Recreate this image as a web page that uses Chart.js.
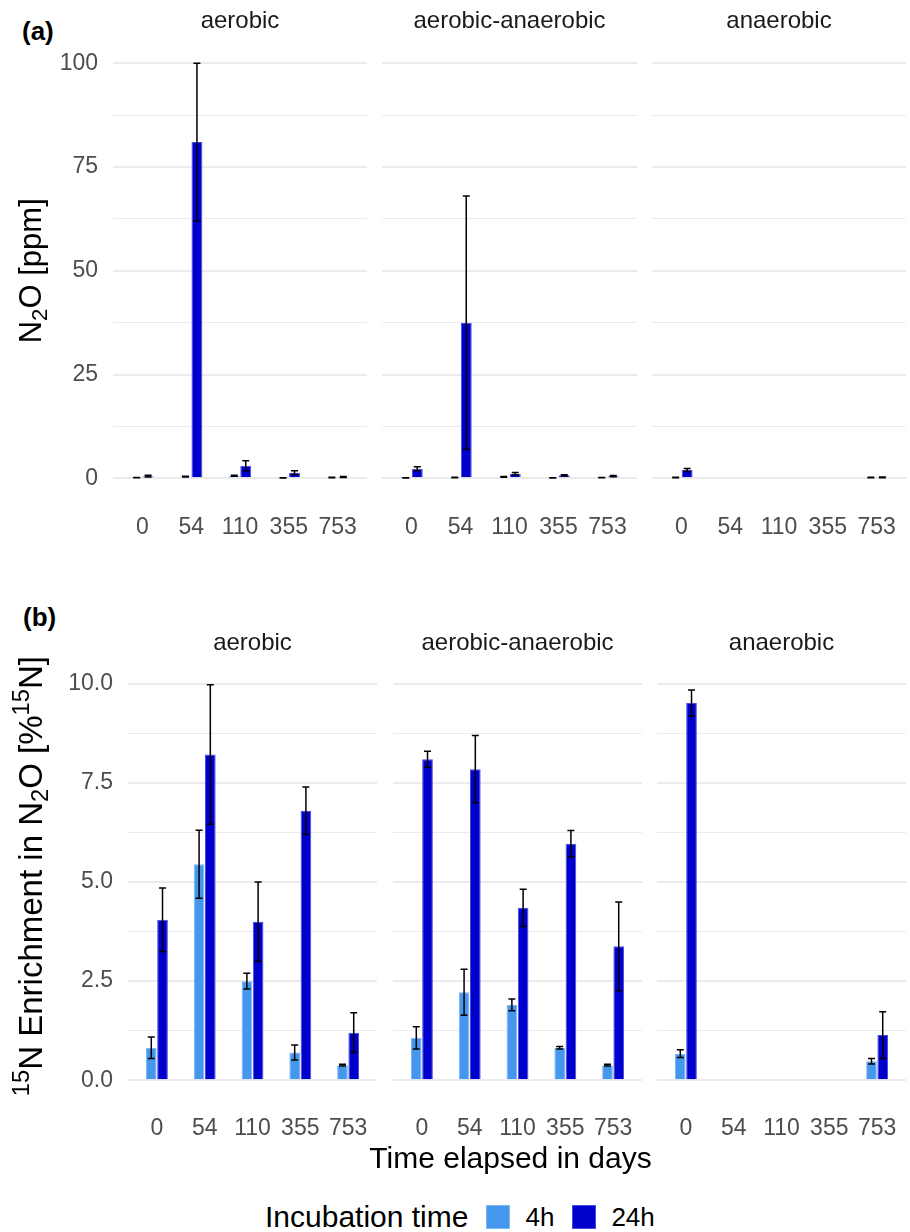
<!DOCTYPE html>
<html>
<head>
<meta charset="utf-8">
<script src="https://cdn.jsdelivr.net/npm/chart.js@4.4.1/dist/chart.umd.min.js"></script>
<style>
  body { margin: 0; width: 910px; height: 1232px; position: relative; overflow: hidden; background: #fff;
         font-family: "Liberation Sans", Arial, sans-serif; }
  .tag { position: absolute; font-weight: bold; font-size: 26px; line-height: 30px; color: #000; }
  #legend { position: absolute; left: 265px; top: 1199px; height: 36px; display: flex; align-items: center; color: #000; }
  #legend .sw { display: inline-block; width: 24px; height: 24px; box-sizing: border-box; }
</style>
</head>
<body>
<div class="tag" style="left:22px;top:16px">(a)</div>
<div class="tag" style="left:23px;top:602px">(b)</div>
<div id="legend"></div>

<script>
// categories and facets
const categories = ['0', '54', '110', '355', '753'];
const treatments = ['aerobic', 'aerobic-anaerobic', 'anaerobic'];
const seriesLabels = ['4h', '24h'];
const seriesColors = ['#4597ee', '#0000cd'];
const seriesBorders = ['#7cb5f3', '#4a4ae2'];

// (a) N2O [ppm], one inner array per treatment
const n2o4h = [
    [0.15, 0.4, 0.6, 0.1, 0.2],
    [0.1, 0.2, 0.35, 0.1, 0.15],
    [0.2, null, null, null, 0.2]
];
const n2o4hErr = [
    [0.05, 0.1, 0.1, 0.05, 0.05],
    [0.05, 0.05, 0.1, 0.05, 0.05],
    [0.05, null, null, null, 0.05]
];
const n2o24h = [
    [0.5, 81, 3.0, 1.35, 0.3],
    [2.3, 37.5, 1.1, 0.7, 0.5],
    [2.0, null, null, null, 0.2]
];
const n2o24hErr = [
    [0.2, 19, 1.2, 0.45, 0.1],
    [0.5, 30.5, 0.3, 0.15, 0.15],
    [0.35, null, null, null, 0.1]
];

// (b) 15N enrichment in N2O [%15N]
const enr4h = [
    [0.82, 5.45, 2.5, 0.7, 0.38],
    [1.07, 2.22, 1.9, 0.82, 0.38],
    [0.67, null, null, null, 0.48]
];
const enr4hErr = [
    [0.27, 0.86, 0.2, 0.19, 0.02],
    [0.28, 0.58, 0.15, 0.03, 0.02],
    [0.1, null, null, null, 0.07]
];
const enr24h = [
    [4.05, 8.22, 4.0, 6.8, 1.2],
    [8.1, 7.85, 4.35, 5.97, 3.38],
    [9.52, null, null, null, 1.14]
];
const enr24hErr = [
    [0.8, 1.76, 1.0, 0.6, 0.5],
    [0.2, 0.85, 0.47, 0.33, 1.12],
    [0.33, null, null, null, 0.59]
];

const n2oTicks = [0, 25, 50, 75, 100];
const enrTicks = [0, 2.5, 5, 7.5, 10];

const FONT = '"Liberation Sans", Arial, sans-serif';
Chart.defaults.font.family = FONT;

// mean +/- error bars drawn on top of the bars
const errorBars = {
    id: 'errorBars',
    afterDatasetsDraw(chart) {
        const ctx = chart.ctx;
        const y = chart.scales.y;
        ctx.save();
        ctx.strokeStyle = '#000';
        ctx.lineWidth = 1.5;
        chart.data.datasets.forEach((ds, d) => {
            chart.getDatasetMeta(d).data.forEach((bar, i) => {
                const v = ds.data[i];
                const e = ds.errors[i];
                if (v == null || e == null) return;
                const top = y.getPixelForValue(v + e);
                const bot = y.getPixelForValue(v - e);
                ctx.beginPath();
                ctx.moveTo(bar.x, top); ctx.lineTo(bar.x, bot);
                ctx.moveTo(bar.x - 3.5, top); ctx.lineTo(bar.x + 3.5, top);
                ctx.moveTo(bar.x - 3.5, bot); ctx.lineTo(bar.x + 3.5, bot);
                ctx.stroke();
            });
        });
        ctx.restore();
    }
};

// axis titles with sub/superscripts (Chart.js squeezes long titles to the axis length)
function drawRich(ctx, parts, size) {
    const fontOf = p => `${p[1] ? size * 0.72 : size}px ${FONT}`;
    let total = 0;
    parts.forEach(p => { ctx.font = fontOf(p); total += ctx.measureText(p[0]).width; });
    let x = -total / 2;
    const base = size * 0.35;
    ctx.textBaseline = 'alphabetic';
    ctx.textAlign = 'left';
    parts.forEach(p => {
        ctx.font = fontOf(p);
        const shift = p[1] === 'sup' ? -size * 0.38 : p[1] === 'sub' ? size * 0.2 : 0;
        ctx.fillText(p[0], x, base + shift);
        x += ctx.measureText(p[0]).width;
    });
}

const axisTitles = {
    id: 'axisTitles',
    afterDraw(chart, args, opts) {
        const ctx = chart.ctx;
        const a = chart.chartArea;
        ctx.save();
        ctx.fillStyle = '#000';
        if (opts.y) {
            ctx.save();
            ctx.translate(opts.yPos, (a.top + a.bottom) / 2 + opts.yShift);
            ctx.rotate(-Math.PI / 2);
            drawRich(ctx, opts.y, opts.ySize);
            ctx.restore();
        }
        if (opts.x) {
            ctx.translate((a.left + a.right) / 2 - 7, opts.xPos);
            drawRich(ctx, opts.x, opts.xSize);
        }
        ctx.restore();
    }
};

const rows = [
    {
        top: 0, height: 544, xHeight: 45, min: -5, max: 105, ticks: n2oTicks,
        fmt: v => String(v), values: [n2o4h, n2o24h], errors: [n2o4hErr, n2o24hErr],
        yTitle: [['N', ''], ['2', 'sub'], ['O [ppm]', '']], ySize: 31, yShift: 0,
        xTitle: null, titlePad: { top: 6.6, bottom: 7.1 },
        panels: [[113, 367], [382, 637], [652, 906]]
    },
    {
        top: 610, height: 565, xHeight: 75, min: -0.5, max: 10.5, ticks: enrTicks,
        fmt: v => v.toFixed(1), values: [enr4h, enr24h], errors: [enr4hErr, enr24hErr],
        yTitle: [['15', 'sup'], ['N Enrichment in N', ''], ['2', 'sub'], ['O [%', ''], ['15', 'sup'], ['N]', '']],
        ySize: 33, yShift: -6,
        xTitle: [['Time elapsed in days', '']],
        titlePad: { top: 18.6, bottom: 6.8 },
        panels: [[128, 377], [393, 642], [657, 906]]
    }
];

// major ticks plus the minor lines half way between them
function withMinor(major) {
    const out = [];
    major.forEach((v, i) => {
        if (i > 0) out.push((major[i - 1] + v) / 2);
        out.push(v);
    });
    return out;
}

function makeFacet(row, t) {
    const [p0, p1] = row.panels[t];
    const first = t === 0;
    const hasXTitle = !!row.xTitle && t === 1;
    const wide = hasXTitle ? 32 : 0; // room for the long x title
    const left = first ? 0 : p0 - wide;
    const width = p1 + wide - left;

    const canvas = document.createElement('canvas');
    canvas.width = width;
    canvas.height = row.height;
    canvas.style.cssText = `position:absolute;left:${left}px;top:${row.top}px;`;
    document.body.appendChild(canvas);

    const allTicks = withMinor(row.ticks);
    const isMajor = v => row.ticks.includes(v);
    const setTicks = scale => { scale.ticks = allTicks.map(v => ({ value: v })); };
    const grid = {
        color: '#ebebeb',
        lineWidth: c => (c.tick && isMajor(c.tick.value) ? 2 : 1),
        drawTicks: true,
        tickLength: 5
    };

    new Chart(canvas, {
        type: 'bar',
        data: {
            labels: categories,
            datasets: seriesLabels.map((lab, s) => ({
                label: lab,
                data: row.values[s][t],
                errors: row.errors[s][t],
                backgroundColor: seriesColors[s],
                borderColor: seriesBorders[s],
                borderWidth: 1,
                categoryPercentage: 0.47,
                barPercentage: 0.95
            }))
        },
        options: {
            responsive: false,
            animation: false,
            layout: { padding: { left: wide, right: wide } },
            plugins: {
                legend: { display: false },
                tooltip: { enabled: false },
                title: {
                    display: true,
                    text: treatments[t],
                    fullSize: false,
                    color: '#1a1a1a',
                    font: { size: 24, weight: 'normal' },
                    padding: row.titlePad
                },
                axisTitles: {
                    y: first ? row.yTitle : null,
                    ySize: row.ySize,
                    yShift: row.yShift,
                    yPos: 30,
                    x: hasXTitle ? row.xTitle : null,
                    xSize: 30,
                    xPos: row.height - 18
                }
            },
            scales: {
                x: {
                    type: 'category',
                    offset: true,
                    grid: { display: false },
                    border: { display: false },
                    ticks: { color: '#4d4d4d', font: { size: 23 }, padding: 7, maxRotation: 0, autoSkip: false },
                    afterFit: s => { s.height = row.xHeight; }
                },
                y: {
                    position: 'left',
                    min: row.min,
                    max: row.max,
                    afterBuildTicks: setTicks,
                    grid: grid,
                    border: { display: false },
                    ticks: {
                        display: first,
                        autoSkip: false,
                        color: '#4d4d4d',
                        font: { size: 23 },
                        padding: 15,
                        callback: v => (isMajor(v) ? row.fmt(v) : '')
                    },
                    afterFit: s => { s.width = first ? p0 + 5 : 5; }
                },
                yR: {
                    position: 'right',
                    min: row.min,
                    max: row.max,
                    afterBuildTicks: setTicks,
                    grid: { ...grid, drawOnChartArea: false },
                    border: { display: false },
                    ticks: { display: false, autoSkip: false },
                    afterFit: s => { s.width = 5; }
                }
            }
        },
        plugins: [errorBars, axisTitles]
    });
}

rows.forEach(row => treatments.forEach((_, t) => makeFacet(row, t)));

// legend at the bottom
const legend = document.getElementById('legend');
legend.innerHTML = '<span style="font-size:30px;margin-right:18px">Incubation time</span>' +
    seriesLabels.map((lab, s) =>
        `<span class="sw" style="background:${seriesColors[s]};border:1px solid ${seriesBorders[s]}"></span>` +
        `<span style="font-size:26px;margin-left:15px;margin-right:18px">${lab}</span>`
    ).join('');
</script>
</body>
</html>
